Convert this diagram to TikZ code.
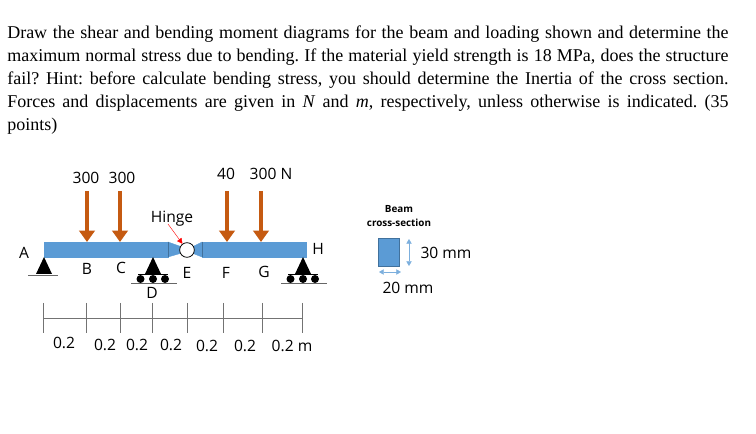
\documentclass[tikz,border=0pt]{standalone}
\usepackage{fontspec}
\setmainfont{Liberation Serif}
\setsansfont{Open Sans}
\usetikzlibrary{arrows.meta}
\definecolor{beamblue}{HTML}{5B9BD5}
\definecolor{beamedge}{HTML}{41719C}
\definecolor{loadbrown}{HTML}{C55A11}
\def\beamtop{242}
\def\beambot{257}

\begin{document}
\begin{tikzpicture}[x=0.75pt,y=-0.75pt]
	\tikzstyle{beam}=[fill=beamblue,draw=beamblue,line width=0.3pt]
	\tikzstyle{load}=[draw=loadbrown,line width=3.3pt,-{Triangle[width=11.5pt,length=8.5pt]}]
	\tikzstyle{label}=[font=\sffamily\fontsize{11.7}{13}\selectfont,inner sep=0pt]
	\tikzstyle{pin}=[fill=black,-]
	\tikzstyle{roller}=[circle,fill=black,minimum size=6pt,inner sep=0pt]
	\tikzstyle{ground}=[draw=black!60,line width=0.5pt]
	\tikzstyle{tick}=[draw=black!55,line width=0.4pt]
	\tikzstyle{dimarrow}=[draw=beamblue!80,line width=0.5pt,{Triangle[width=4pt,length=3.5pt]}-{Triangle[width=4pt,length=3.5pt]}]
	\useasboundingbox (0,0) rectangle (756,434);

	% Draw the problem statement
	\node[anchor=north west,inner sep=0pt,text width=541pt,align=justify,font=\fontsize{13.5}{17.25}\selectfont\frenchspacing] (statement) at (7,26)
	{Draw the shear and bending moment diagrams for the beam and loading shown and determine the\linebreak
	maximum normal stress due to bending. If the material yield strength is 18 MPa, does the structure\linebreak
	fail? Hint: before calculate bending stress, you should determine the Inertia of the cross section.\linebreak
	Forces and displacements are given in \textit{N} and \textit{m}, respectively, unless otherwise is indicated. (35\linebreak
	points)};

	% Draw the beam with the hinge between its two parts
	\fill[beam] (44,\beamtop) rectangle (168,\beambot);
	\fill[beam] (202,\beamtop) rectangle (306,\beambot);
	\fill[beam] (168,\beamtop) -- (182,247) -- (182,253) -- (168,\beambot) -- cycle;
	\fill[beam] (202,\beamtop) -- (192,247) -- (192,253) -- (202,\beambot) -- cycle;
	\draw[beamedge,line width=0.3pt] (168.5,\beamtop) -- (168.5,\beambot);
	\draw[beamedge,line width=0.3pt] (202,\beamtop) -- (202,\beambot);
	\node[circle,draw=black,fill=white,line width=0.6pt,minimum size=11pt,inner sep=0pt] (hinge) at (187,250) {};

	% Draw the loads
	\foreach \name / \x in {1/87,2/120,3/227,4/261} {
		\coordinate (L-\name) at (\x,191);
		\coordinate (T-\name) at (\x,\beamtop);
		\draw[load] (L-\name) -- (T-\name);
	}
	\node[label] (load1) at (86,178) {300};
	\node[label] (load2) at (122,178) {300};
	\node[label] (load3) at (226,174) {40};
	\node[label] (load4) at (271,174) {300 N};

	% Annotate the hinge
	\node[label] (hl) at (172,219) {Hinge};
	\coordinate (hs) at (168,224);
	\draw[red,line width=0.3pt,-{Triangle[width=4pt,length=4pt]}] (hs) -- (hinge);

	% Draw the supports
	\foreach \name / \x in {A/44,D/153,H/303} {
		\fill[pin] (\x,\beambot) -- ++(-8,17) -- ++(16,0) -- cycle;
	}
	\coordinate (gA-1) at (28,275);
	\coordinate (gA-2) at (58,275);
	\draw[ground] (gA-1) -- (gA-2);
	\foreach \name / \x in {D/153,H/303} {
		\foreach \i / \dx in {1/-12.5,2/0,3/12} {
			\node[roller] (R-\name-\i) at (\x+\dx,279) {};
		}
		\coordinate (g\name-1) at (\x-22,283);
		\coordinate (g\name-2) at (\x+24,283);
		\draw[ground] (g\name-1) -- (g\name-2);
		\coordinate (t\name-1) at (\x-15,274.5);
		\coordinate (t\name-2) at (\x+15,274.5);
		\draw[black,line width=0.4pt] (t\name-1) -- (t\name-2);
	}

	% Annotate the points
	\node[label] (A) at (24,253) {A};
	\node[label] (B) at (87,269) {B};
	\node[label] (C) at (121,268) {C};
	\node[label] (D) at (152,293) {D};
	\node[label] (E) at (187,273) {E};
	\node[label] (F) at (226,273) {F};
	\node[label] (G) at (264,272) {G};
	\node[label] (H) at (318,249) {H};

	% Draw the dimension line
	\foreach \name / \x in {1/43,2/86,3/120,4/152,5/187,6/223,7/262,8/302} {
		\coordinate (D-\name-a) at (\x,303);
		\coordinate (D-\name-b) at (\x,333);
		\coordinate (D-\name) at (\x,318);
		\draw[tick] (D-\name-a) -- (D-\name-b);
	}
	\draw[tick] (D-1) -- (D-8);
	\foreach \name / \x / \y in {1/64/343,2/105/345,3/137/345,4/171/345,5/207/346,6/245/346} {
		\node[label] (S-\name) at (\x,\y) {0.2};
	}
	\node[label] (S-7) at (292,346) {0.2 m};

	% Draw the cross section
	\node[font=\sffamily\bfseries\fontsize{7.4}{9}\selectfont,align=center,inner sep=0pt] (section) at (399,216) {Beam\\[1.5pt]cross-section};
	\node[anchor=north west,fill=beamblue,draw=beamedge,line width=0.3pt,minimum width=15.5pt,minimum height=21pt,inner sep=0pt] (rect) at (378,238) {};
	\coordinate (v-1) at (409,239);
	\coordinate (v-2) at (409,266);
	\coordinate (h-1) at (379,272);
	\coordinate (h-2) at (401,272);
	\draw[dimarrow] (v-1) -- (v-2);
	\draw[dimarrow] (h-1) -- (h-2);
	\node[label] (height) at (446,253) {30 mm};
	\node[label] (width) at (408,288) {20 mm};
\end{tikzpicture}
\end{document}
